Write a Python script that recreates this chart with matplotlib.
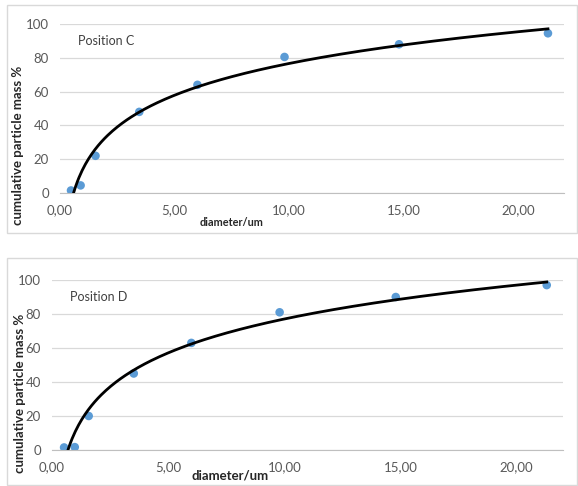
import numpy as np
import matplotlib
matplotlib.use("Agg")
import matplotlib.pyplot as plt

plt.rcParams['font.family'] = ['Lato', 'DejaVu Sans']

# data
diam_c = [0.48, 0.90, 1.55, 3.46, 6.00, 9.80, 14.80, 21.30]
mass_c = [1.5, 4.5, 22.0, 48.0, 64.0, 80.5, 88.0, 94.5]
diam_d = [0.52, 0.98, 1.58, 3.52, 6.00, 9.80, 14.80, 21.30]
mass_d = [1.5, 1.7, 20.0, 45.0, 63.0, 81.0, 90.0, 97.0]

xticks = [0, 5, 10, 15, 20]
xtick_labels = ['0,00', '5,00', '10,00', '15,00', '20,00']
yticks = [0, 20, 40, 60, 80, 100]

W, H = 578, 486
fig = plt.figure(figsize=(W / 100, H / 100), dpi=100)

def px_axes(l, t, r, b):
    return fig.add_axes([l / W, 1 - b / H, (r - l) / W, (b - t) / H])

def frame(l, t, r, b):
    fig.add_artist(plt.Rectangle((l / W, 1 - b / H), (r - l) / W, (b - t) / H,
                                 transform=fig.transFigure, fill=False,
                                 edgecolor='#d9d9d9', lw=1.0))

def panel(ax, x, y, name, xlab_size, xlab_pos, ylab_size, ylab_pos):
    ax.set_xlim(0, 22)
    ax.set_ylim(0, 100)
    ax.set_xticks(xticks)
    ax.set_xticklabels(xtick_labels)
    ax.set_yticks(yticks)
    ax.tick_params(length=0, labelsize=9.5, labelcolor='#595959', pad=8)
    ax.grid(axis='y', color='#d9d9d9', lw=0.9)
    ax.set_axisbelow(True)
    for s in ['top', 'right', 'left']:
        ax.spines[s].set_visible(False)
    ax.spines['bottom'].set_color('#bfbfbf')
    # log trendline fitted to the points
    a, b = np.polyfit(np.log(x), y, 1)
    xs = np.linspace(min(x), max(x), 300)
    ax.plot(xs, a * np.log(xs) + b, color='black', lw=2.0, zorder=3)
    ax.scatter(x, y, s=38, color='#5b9bd5', zorder=2, edgecolors='none')
    ax.text(0.036, 0.9, name, transform=ax.transAxes, fontsize=9,
            color='#404040', va='center')
    fig.text(xlab_pos[0] / W, 1 - xlab_pos[1] / H, 'diameter/um',
             fontsize=xlab_size, fontweight='bold', color='#262626',
             ha='center', va='center')
    fig.text(ylab_pos[0] / W, 1 - ylab_pos[1] / H, 'cumulative particle mass %',
             rotation=90, fontsize=ylab_size, fontweight='bold',
             color='#262626', ha='center', va='center')

frame(7, 5, 577, 233)
ax1 = px_axes(60, 24, 564, 193)
panel(ax1, diam_c, mass_c, 'Position C', 7.8, (232, 223), 9.5, (18, 145.5))

frame(7, 258, 577, 485)
ax2 = px_axes(52, 280, 563, 450)
panel(ax2, diam_d, mass_d, 'Position D', 9.5, (230, 475), 9.5, (20, 393))

fig.savefig('out.png', dpi=100)
